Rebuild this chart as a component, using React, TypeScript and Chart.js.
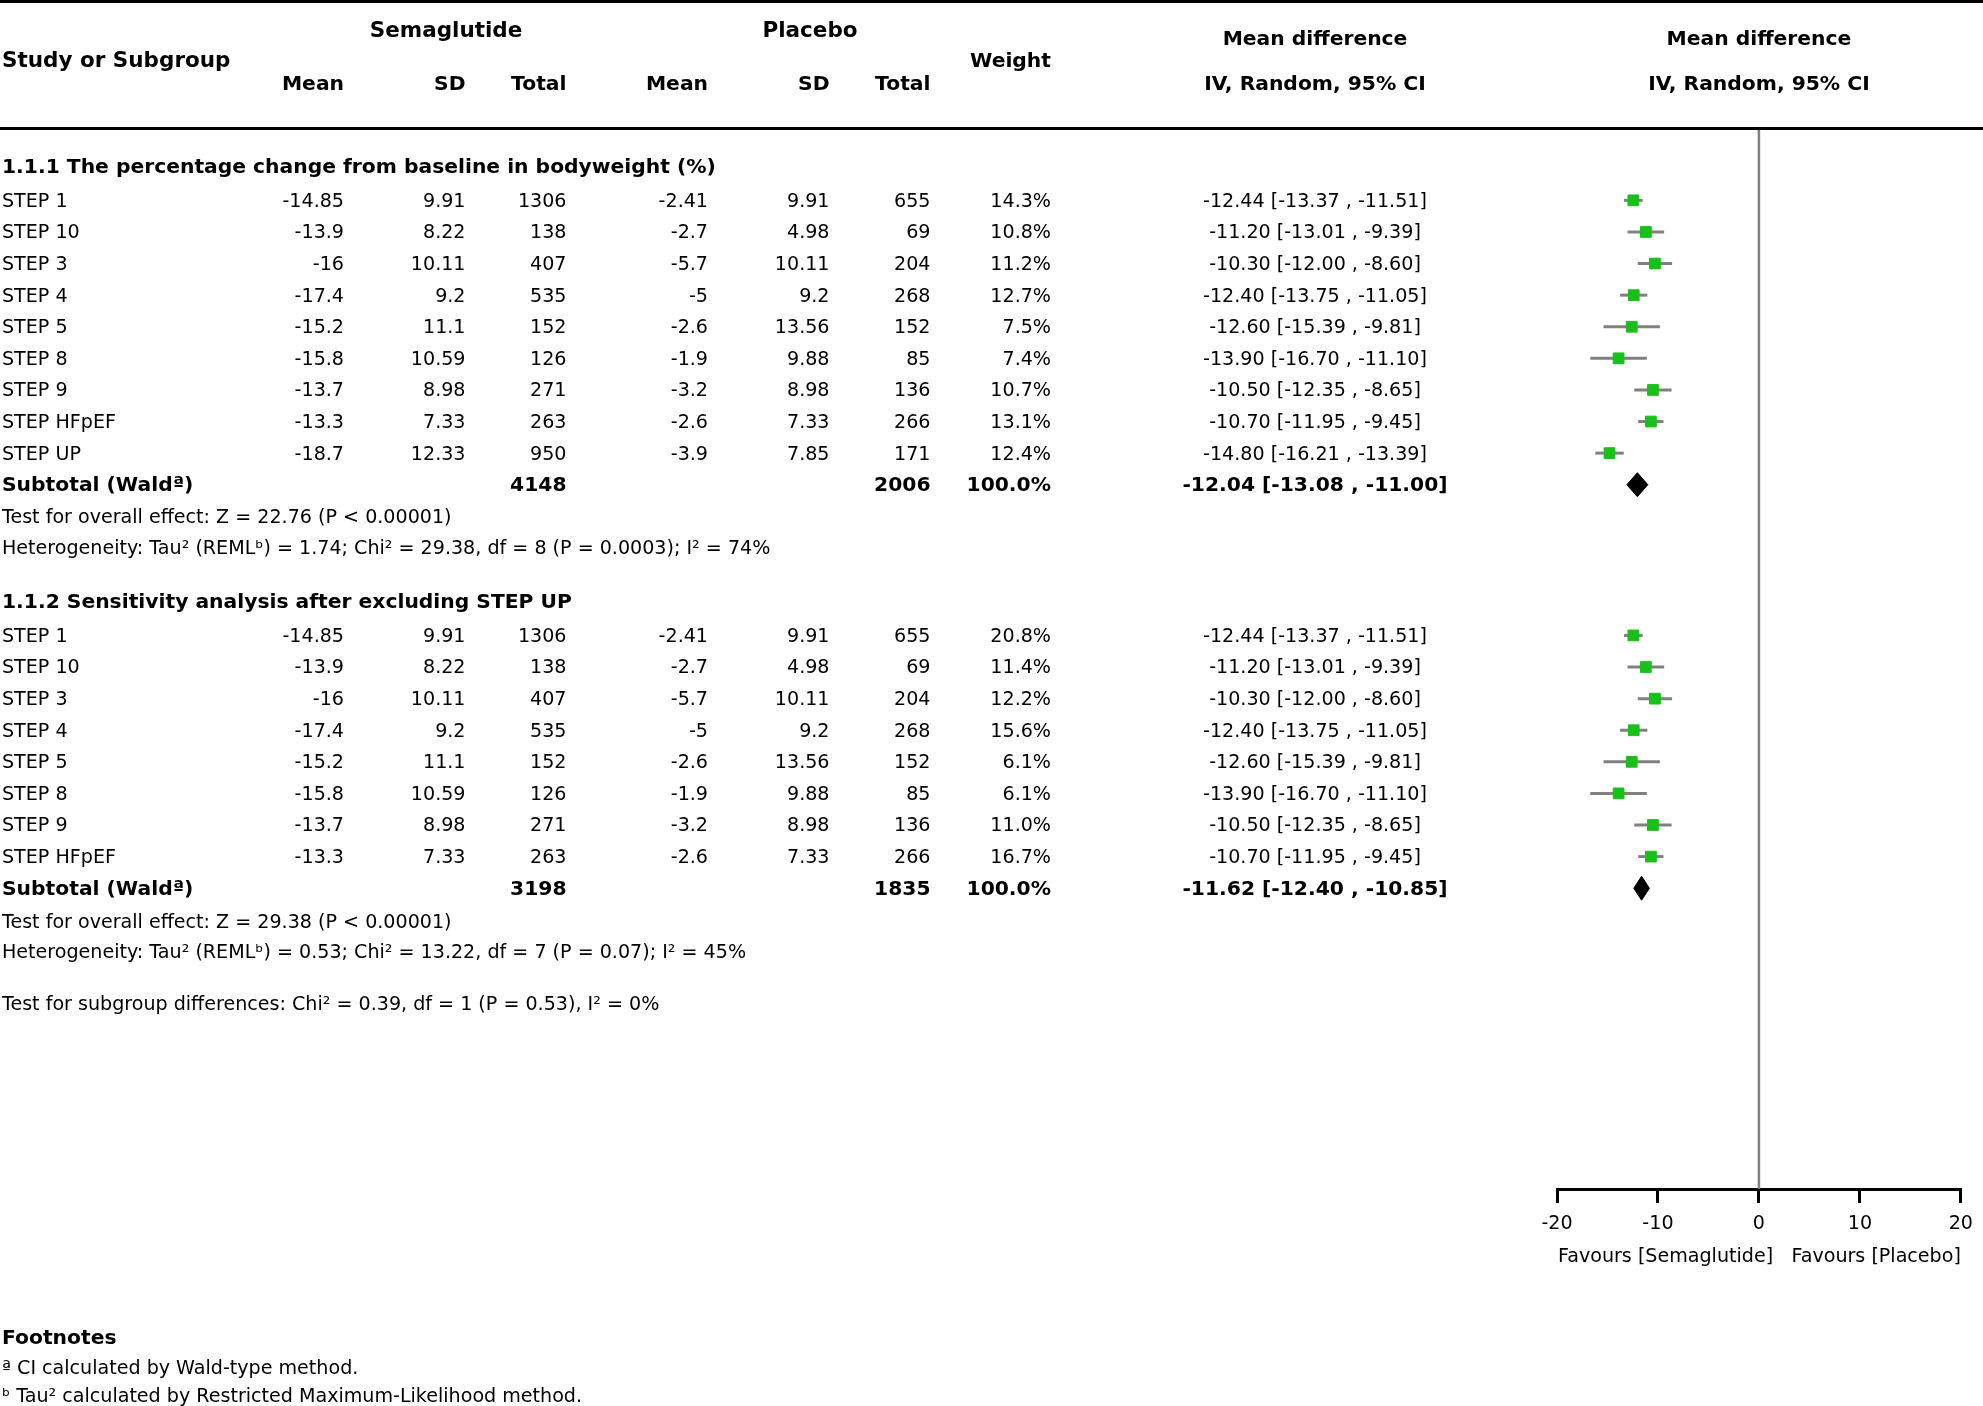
import React, { useEffect, useRef } from 'react';
import { Chart, registerables } from 'chart.js';

Chart.register(...registerables);

// ---------------- DATA ----------------
const studies1 = ['STEP 1', 'STEP 10', 'STEP 3', 'STEP 4', 'STEP 5', 'STEP 8', 'STEP 9', 'STEP HFpEF', 'STEP UP'];
const semaMean1 = [-14.85, -13.9, -16, -17.4, -15.2, -15.8, -13.7, -13.3, -18.7];
const semaSD1 = [9.91, 8.22, 10.11, 9.2, 11.1, 10.59, 8.98, 7.33, 12.33];
const semaN1 = [1306, 138, 407, 535, 152, 126, 271, 263, 950];
const placMean1 = [-2.41, -2.7, -5.7, -5, -2.6, -1.9, -3.2, -2.6, -3.9];
const placSD1 = [9.91, 4.98, 10.11, 9.2, 13.56, 9.88, 8.98, 7.33, 7.85];
const placN1 = [655, 69, 204, 268, 152, 85, 136, 266, 171];
const weight1 = [14.3, 10.8, 11.2, 12.7, 7.5, 7.4, 10.7, 13.1, 12.4];
const md1 = [-12.44, -11.2, -10.3, -12.4, -12.6, -13.9, -10.5, -10.7, -14.8];
const lo1 = [-13.37, -13.01, -12.0, -13.75, -15.39, -16.7, -12.35, -11.95, -16.21];
const hi1 = [-11.51, -9.39, -8.6, -11.05, -9.81, -11.1, -8.65, -9.45, -13.39];
const subtotal1 = { semaN: 4148, placN: 2006, md: -12.04, lo: -13.08, hi: -11.0 };

const studies2 = ['STEP 1', 'STEP 10', 'STEP 3', 'STEP 4', 'STEP 5', 'STEP 8', 'STEP 9', 'STEP HFpEF'];
const semaMean2 = [-14.85, -13.9, -16, -17.4, -15.2, -15.8, -13.7, -13.3];
const semaSD2 = [9.91, 8.22, 10.11, 9.2, 11.1, 10.59, 8.98, 7.33];
const semaN2 = [1306, 138, 407, 535, 152, 126, 271, 263];
const placMean2 = [-2.41, -2.7, -5.7, -5, -2.6, -1.9, -3.2, -2.6];
const placSD2 = [9.91, 4.98, 10.11, 9.2, 13.56, 9.88, 8.98, 7.33];
const placN2 = [655, 69, 204, 268, 152, 85, 136, 266];
const weight2 = [20.8, 11.4, 12.2, 15.6, 6.1, 6.1, 11.0, 16.7];
const md2 = [-12.44, -11.2, -10.3, -12.4, -12.6, -13.9, -10.5, -10.7];
const lo2 = [-13.37, -13.01, -12.0, -13.75, -15.39, -16.7, -12.35, -11.95];
const hi2 = [-11.51, -9.39, -8.6, -11.05, -9.81, -11.1, -8.65, -9.45];
const subtotal2 = { semaN: 3198, placN: 1835, md: -11.62, lo: -12.4, hi: -10.85 };

const section1Title = '1.1.1 The percentage change from baseline in bodyweight (%)';
const section2Title = '1.1.2 Sensitivity analysis after excluding STEP UP';
const overall1 = 'Test for overall effect: Z = 22.76 (P < 0.00001)';
const hetero1 = 'Heterogeneity: Tau² (REMLᵇ) = 1.74; Chi² = 29.38, df = 8 (P = 0.0003); I² = 74%';
const overall2 = 'Test for overall effect: Z = 29.38 (P < 0.00001)';
const hetero2 = 'Heterogeneity: Tau² (REMLᵇ) = 0.53; Chi² = 13.22, df = 7 (P = 0.07); I² = 45%';
const subgroupTest = 'Test for subgroup differences: Chi² = 0.39, df = 1 (P = 0.53), I² = 0%';
const footnotes = ['ª CI calculated by Wald-type method.', 'ᵇ Tau² calculated by Restricted Maximum-Likelihood method.'];
const xTicks = [-20, -10, 0, 10, 20];
const favoursLeft = 'Favours [Semaglutide]';
const favoursRight = 'Favours [Placebo]';

// ---------------- LAYOUT ----------------
const W = 1983;
const H = 1406;
const FONT = '"DejaVu Sans", "Liberation Sans", sans-serif';
const FS = 19.1;
const FS_BOLD = 20.3;
const FS_HEAD = 21.5;
const TY = 1.5; // visual baseline correction for text
const YMAX = 33.58; // row units between header rule and axis
const SEC1_HEAD = 1.2;
const SEC1_ROW0 = 2.29;
const SEC2_HEAD = 14.98;
const SEC2_ROW0 = 16.06;
const SUBGROUP_Y = 27.7;
const DIAMOND_HALF = 0.38;

const GREEN = 'rgb(25,192,25)';
const GRAY = '#808080';

const COL = {
  semaMean: 344, semaSD: 465.5, semaN: 566.5,
  placMean: 708, placSD: 829.5, placN: 930.5,
  weight: 1051, md: 1315,
};

type StudyRow = {
  name: string; sm: number; ss: number; sn: number; pm: number; ps: number; pn: number;
  w: number; md: number; lo: number; hi: number; y: number;
};

function buildRows(names: string[], sm: number[], ss: number[], sn: number[], pm: number[], ps: number[], pn: number[], w: number[], md: number[], lo: number[], hi: number[], y0: number): StudyRow[] {
  return names.map((name, i) => ({
    name, sm: sm[i], ss: ss[i], sn: sn[i], pm: pm[i], ps: ps[i], pn: pn[i],
    w: w[i], md: md[i], lo: lo[i], hi: hi[i], y: y0 + i,
  }));
}

const fmtCI = (m: number, l: number, h: number) => `${m.toFixed(2)} [${l.toFixed(2)} , ${h.toFixed(2)}]`;

export default function App() {
  const ref = useRef<HTMLCanvasElement>(null);

  useEffect(() => {
    const canvas = ref.current;
    if (!canvas) return;

    const rows1 = buildRows(studies1, semaMean1, semaSD1, semaN1, placMean1, placSD1, placN1, weight1, md1, lo1, hi1, SEC1_ROW0);
    const rows2 = buildRows(studies2, semaMean2, semaSD2, semaN2, placMean2, placSD2, placN2, weight2, md2, lo2, hi2, SEC2_ROW0);
    const sub1Y = SEC1_ROW0 + rows1.length;
    const sub2Y = SEC2_ROW0 + rows2.length;
    const allRows = [...rows1, ...rows2];
    const subs = [
      { ...subtotal1, y: sub1Y },
      { ...subtotal2, y: sub2Y },
    ];

    const datasets: any[] = [];
    datasets.push({
      type: 'scatter',
      data: allRows.map((r) => ({ x: r.md, y: r.y })),
      pointStyle: 'rect',
      pointRadius: 7.6,
      pointBackgroundColor: GREEN,
      pointBorderColor: GREEN,
      pointBorderWidth: 1,
      showLine: false,
      order: 0,
      clip: false,
    });
    subs.forEach((s) => {
      datasets.push({
        type: 'line',
        data: [
          { x: s.lo, y: s.y },
          { x: s.md, y: s.y - DIAMOND_HALF },
          { x: s.hi, y: s.y },
          { x: s.md, y: s.y + DIAMOND_HALF },
          { x: s.lo, y: s.y },
        ],
        borderColor: '#000',
        backgroundColor: '#000',
        borderWidth: 1,
        fill: 'shape',
        pointRadius: 0,
        tension: 0,
        order: 1,
        clip: false,
      });
    });
    allRows.forEach((r) => {
      datasets.push({
        type: 'line',
        data: [{ x: r.lo, y: r.y }, { x: r.hi, y: r.y }],
        borderColor: GRAY,
        borderWidth: 3,
        pointRadius: 0,
        fill: false,
        order: 2,
        clip: false,
      });
    });
    datasets.push({
      type: 'line',
      data: [{ x: 0, y: 0 }, { x: 0, y: YMAX }],
      borderColor: GRAY,
      borderWidth: 2.5,
      pointRadius: 0,
      fill: false,
      order: 3,
      clip: false,
    });

    const textPlugin = {
      id: 'forestText',
      afterDraw(chart: any) {
        const ctx: CanvasRenderingContext2D = chart.ctx;
        const ys = chart.scales.y;
        const xs = chart.scales.x;
        ctx.save();
        ctx.fillStyle = '#000';
        ctx.textBaseline = 'middle';

        const text = (s: string, x: number, y: number, align: CanvasTextAlign, weight: 0 | 1 | 2 = 0) => {
          ctx.font = weight === 0 ? `${FS}px ${FONT}` : weight === 1 ? `bold ${FS_BOLD}px ${FONT}` : `bold ${FS_HEAD}px ${FONT}`;
          ctx.textAlign = align;
          ctx.fillText(s, x, y + TY);
        };

        // rules
        ctx.strokeStyle = '#000';
        ctx.lineWidth = 3;
        ctx.beginPath();
        ctx.moveTo(0, 1.5); ctx.lineTo(W, 1.5);
        ctx.stroke();
        ctx.beginPath();
        ctx.moveTo(0, 128.5); ctx.lineTo(W, 128.5);
        ctx.stroke();

        // header
        text('Semaglutide', 446, 30, 'center', 2);
        text('Placebo', 810, 30, 'center', 2);
        text('Study or Subgroup', 2, 60, 'left', 2);
        text('Weight', COL.weight, 60, 'right', 1);
        text('Mean', COL.semaMean, 83, 'right', 1);
        text('SD', COL.semaSD, 83, 'right', 1);
        text('Total', COL.semaN, 83, 'right', 1);
        text('Mean', COL.placMean, 83, 'right', 1);
        text('SD', COL.placSD, 83, 'right', 1);
        text('Total', COL.placN, 83, 'right', 1);
        text('Mean difference', COL.md, 38, 'center', 1);
        text('IV, Random, 95% CI', COL.md, 83, 'center', 1);
        const x0 = xs.getPixelForValue(0);
        text('Mean difference', x0, 38, 'center', 1);
        text('IV, Random, 95% CI', x0, 83, 'center', 1);

        // sections
        const py = (v: number) => ys.getPixelForValue(v);
        text(section1Title, 2, py(SEC1_HEAD), 'left', 1);
        text(section2Title, 2, py(SEC2_HEAD), 'left', 1);

        allRows.forEach((r) => {
          const y = py(r.y);
          text(r.name, 2, y, 'left');
          text(String(r.sm), COL.semaMean, y, 'right');
          text(String(r.ss), COL.semaSD, y, 'right');
          text(String(r.sn), COL.semaN, y, 'right');
          text(String(r.pm), COL.placMean, y, 'right');
          text(String(r.ps), COL.placSD, y, 'right');
          text(String(r.pn), COL.placN, y, 'right');
          text(`${r.w.toFixed(1)}%`, COL.weight, y, 'right');
          text(fmtCI(r.md, r.lo, r.hi), COL.md, y, 'center');
        });

        subs.forEach((s) => {
          const y = py(s.y);
          text('Subtotal (Waldª)', 2, y, 'left', 1);
          text(String(s.semaN), COL.semaN, y, 'right', 1);
          text(String(s.placN), COL.placN, y, 'right', 1);
          text('100.0%', COL.weight, y, 'right', 1);
          text(fmtCI(s.md, s.lo, s.hi), COL.md, y, 'center', 1);
        });

        text(overall1, 2, py(sub1Y + 1), 'left');
        text(hetero1, 2, py(sub1Y + 2), 'left');
        text(overall2, 2, py(sub2Y + 1.04), 'left');
        text(hetero2, 2, py(sub2Y + 2), 'left');
        text(subgroupTest, 2, py(SUBGROUP_Y), 'left');

        // favours
        text(favoursLeft, xs.getPixelForValue(-20) + 1, 1256, 'left');
        text(favoursRight, xs.getPixelForValue(20), 1256, 'right');

        // footnotes
        text('Footnotes', 2, 1337, 'left', 1);
        text(footnotes[0], 2, 1368, 'left');
        text(footnotes[1], 2, 1396, 'left');

        ctx.restore();
      },
    };

    const chart = new Chart(canvas, {
      type: 'scatter',
      data: { datasets },
      options: {
        responsive: false,
        animation: false,
        events: [],
        layout: { padding: { left: 1557, right: 21.5, top: 128, bottom: 157 } },
        plugins: { legend: { display: false }, tooltip: { enabled: false } },
        scales: {
          x: {
            type: 'linear',
            position: 'bottom',
            min: -20,
            max: 20,
            afterBuildTicks: (scale: any) => {
              scale.ticks = xTicks.map((v) => ({ value: v }));
            },
            afterFit: (scale: any) => {
              scale.height = 60;
            },
            ticks: {
              color: '#000',
              font: { family: FONT, size: FS },
              padding: 10,
              maxRotation: 0,
              autoSkip: false,
              callback: (v: any) => String(v),
            },
            grid: {
              drawOnChartArea: false,
              drawTicks: true,
              tickLength: 14,
              tickWidth: 3,
              tickColor: '#000',
              color: '#000',
              lineWidth: 3,
            },
            border: { display: true, color: '#000', width: 3 },
          },
          y: {
            type: 'linear',
            display: false,
            min: 0,
            max: YMAX,
            reverse: true,
          },
        },
      },
      plugins: [textPlugin],
    } as any);

    return () => chart.destroy();
  }, []);

  return (
    <canvas
      ref={ref}
      width={W}
      height={H}
      style={{ position: 'absolute', left: 0, top: 0, width: W, height: H, background: '#fff' }}
    />
  );
}
